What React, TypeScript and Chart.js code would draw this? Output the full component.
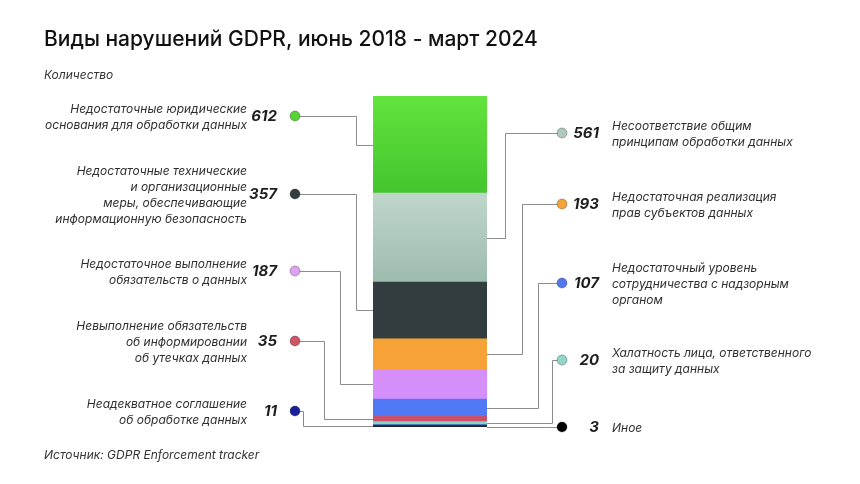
import React, { useEffect, useRef } from "react";
import { Chart, registerables } from "chart.js";

Chart.register(...registerables);

const categories = [
  "Недостаточные юридические основания для обработки данных",
  "Несоответствие общим принципам обработки данных",
  "Недостаточные технические и организационные меры, обеспечивающие информационную безопасность",
  "Недостаточная реализация прав субъектов данных",
  "Недостаточное выполнение обязательств о данных",
  "Недостаточный уровень сотрудничества с надзорным органом",
  "Невыполнение обязательств об информировании об утечках данных",
  "Халатность лица, ответственного за защиту данных",
  "Неадекватное соглашение об обработке данных",
  "Иное",
];
const values = [612, 561, 357, 193, 187, 107, 35, 20, 11, 3];
const labelLines = [
  ["Недостаточные юридические", "основания для обработки данных"],
  ["Несоответствие общим", "принципам обработки данных"],
  ["Недостаточные технические", "и организационные", "меры, обеспечивающие", "информационную безопасность"],
  ["Недостаточная реализация", "прав субъектов данных"],
  ["Недостаточное выполнение", "обязательств о данных"],
  ["Недостаточный уровень", "сотрудничества с надзорным", "органом"],
  ["Невыполнение обязательств", "об информировании", "об утечках данных"],
  ["Халатность лица, ответственного", "за защиту данных"],
  ["Неадекватное соглашение", "об обработке данных"],
  ["Иное"],
];
const sides = ["left", "right", "left", "right", "left", "right", "left", "right", "left", "right"];

// styles
const colorsTop = ["#63e33c", "#c0d6cb", "#323d3f", "#f7a236", "#d68ffa", "#5279f5", "#c9506a", "#88d2c8", "#13279a", "#111111"];
const colorsBottom = ["#44c52f", "#9dbcae", "#323d3f", "#f7a236", "#d68ffa", "#5279f5", "#c9506a", "#88d2c8", "#13279a", "#111111"];
const dotColors = ["#57d337", "#aecabd", "#343d40", "#f5a43a", "#dba2f5", "#5477ee", "#cc5566", "#93d6cc", "#1a1f9a", "#000000"];

// annotation layout (pixels)
const anchorY = [116, 133, 194, 204, 271, 283, 341, 360, 411, 427];
const elbowX = [356, 505, 356, 522, 340, 538, 324, 552, 303, 545];

const TITLE = "Виды нарушений GDPR, июнь 2018 - март 2024";
const SUBTITLE = "Количество";
const SOURCE = "Источник: GDPR Enforcement tracker";
const FONT = "Inter, 'Noto Sans', sans-serif";

export default function App() {
  const ref = useRef<HTMLCanvasElement>(null);
  useEffect(() => {
    const canvas = ref.current!;
    const total = values.reduce((a, b) => a + b, 0);
    const bottoms = values.map((_, i) => values.slice(i + 1).reduce((a, b) => a + b, 0));

    const idx = values.map((_, i) => i).reverse();
    const datasets = idx.map((i) => ({
      label: categories[i],
      data: [values[i]],
      borderWidth: 0,
      barPercentage: 1,
      categoryPercentage: 1,
      backgroundColor: (c: any) => {
        const chart = c.chart;
        const y = chart.scales?.y;
        if (!chart.chartArea || !y) return colorsTop[i];
        const yTop = y.getPixelForValue(bottoms[i] + values[i]);
        const yBot = y.getPixelForValue(bottoms[i]);
        const g = chart.ctx.createLinearGradient(0, yTop, 0, yBot);
        g.addColorStop(0, colorsTop[i]);
        g.addColorStop(1, colorsBottom[i]);
        return g;
      },
    }));

    const annot = {
      id: "annot",
      beforeDraw(chart: any) {
        const ctx = chart.ctx;
        ctx.save();
        ctx.fillStyle = "#ffffff";
        ctx.fillRect(0, 0, chart.width, chart.height);
        ctx.restore();
      },
      afterDraw(chart: any) {
        const ctx = chart.ctx as CanvasRenderingContext2D;
        const y = chart.scales.y;
        const area = chart.chartArea;
        ctx.save();
        ctx.fillStyle = "#111111";
        ctx.textBaseline = "alphabetic";
        ctx.textAlign = "left";
        ctx.font = `500 21px ${FONT}`;
        ctx.fillText(TITLE, 44, 46);
        ctx.fillStyle = "#333333";
        ctx.font = `italic 400 12px ${FONT}`;
        ctx.fillText(SUBTITLE, 44, 79);
        ctx.fillText(SOURCE, 44, 459);

        for (let i = 0; i < values.length; i++) {
          const left = sides[i] === "left";
          const ay = anchorY[i];
          const midY = y.getPixelForValue(bottoms[i] + values[i] / 2);
          const dotX = left ? 295 : 562;
          const barX = left ? area.left : area.right;
          ctx.strokeStyle = "#8c8c8c";
          ctx.lineWidth = 1;
          ctx.beginPath();
          ctx.moveTo(dotX, ay + 0.5);
          ctx.lineTo(elbowX[i] + 0.5, ay + 0.5);
          ctx.lineTo(elbowX[i] + 0.5, Math.round(midY) + 0.5);
          ctx.lineTo(barX, Math.round(midY) + 0.5);
          ctx.stroke();
          ctx.beginPath();
          ctx.arc(dotX, ay, 5, 0, Math.PI * 2);
          ctx.fillStyle = dotColors[i];
          ctx.fill();
          ctx.strokeStyle = "rgba(0,0,0,0.35)";
          ctx.lineWidth = 0.8;
          ctx.stroke();
          ctx.fillStyle = "#1e1e1e";
          ctx.font = `italic 700 15px ${FONT}`;
          ctx.textAlign = "right";
          ctx.textBaseline = "middle";
          ctx.fillText(String(values[i]), left ? 277 : 599, ay);
          ctx.fillStyle = "#2f2f2f";
          ctx.font = `italic 400 12px ${FONT}`;
          ctx.textAlign = left ? "right" : "left";
          const lines = labelLines[i];
          const lh = 16;
          const start = ay + 1 - ((lines.length - 1) * lh) / 2;
          lines.forEach((t, k) => {
            ctx.fillText(t, left ? 247 : 612, start + k * lh);
          });
        }
        ctx.restore();
      },
    };

    const chart = new Chart(canvas, {
      type: "bar",
      data: { labels: ["GDPR"], datasets },
      options: {
        animation: false,
        responsive: false,
        layout: { padding: { top: 96, bottom: 57, left: 373, right: 373 } },
        plugins: { legend: { display: false }, tooltip: { enabled: false }, title: { display: false } },
        scales: {
          x: { display: false, stacked: true },
          y: { display: false, stacked: true, min: 0, max: total },
        },
      },
      plugins: [annot],
    });
    return () => chart.destroy();
  }, []);

  return (
    <div style={{ position: "absolute", left: 0, top: 0, width: 860, height: 484, background: "#fff" }}>
      <canvas ref={ref} width={860} height={484} style={{ width: 860, height: 484 }} />
    </div>
  );
}
